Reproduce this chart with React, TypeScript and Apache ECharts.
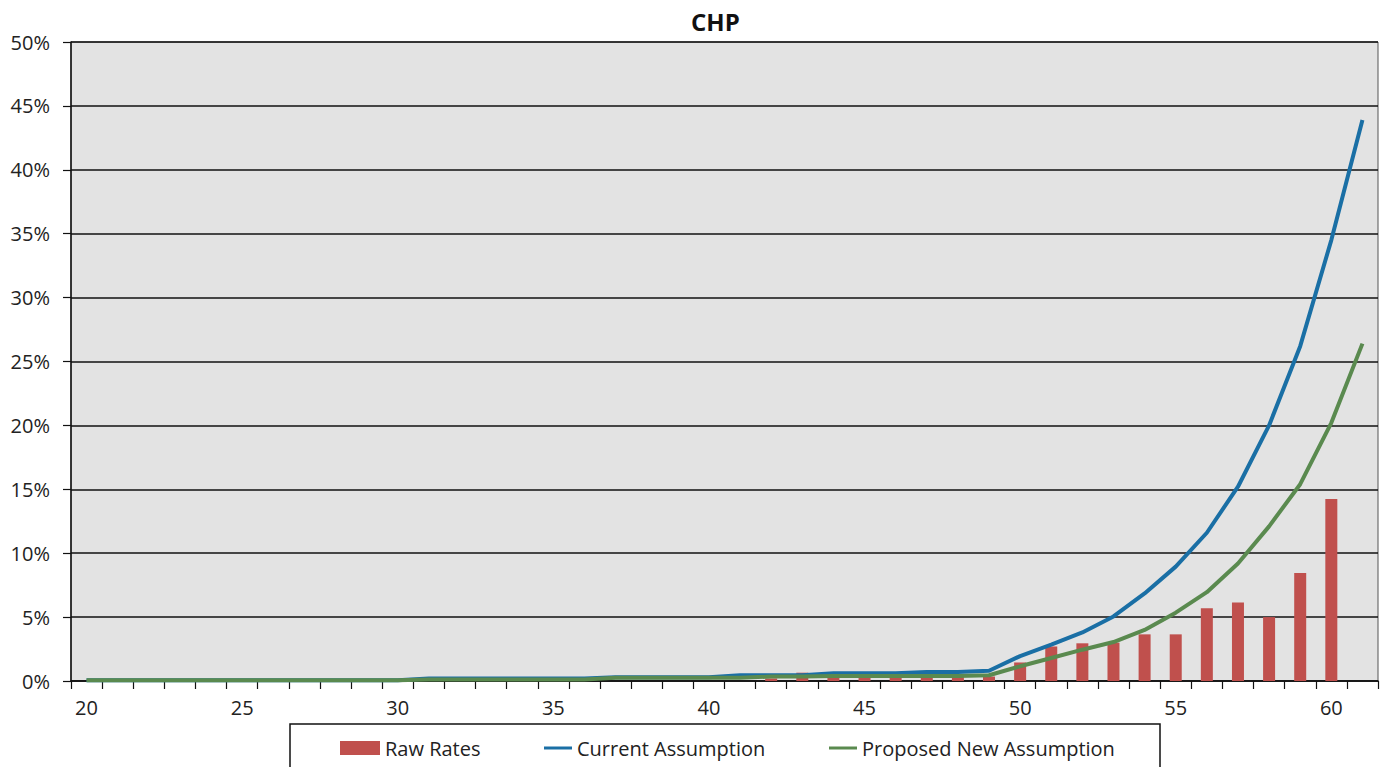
import React, { useEffect, useRef } from "react";
import * as echarts from "echarts";

const ages = ["20","21","22","23","24","25","26","27","28","29","30","31","32","33","34","35","36","37","38","39","40","41","42","43","44","45","46","47","48","49","50","51","52","53","54","55","56","57","58","59","60","61"];

const rawRates = [null,null,null,null,null,null,null,null,null,null,null,null,null,null,null,null,null,null,null,null,null,null,0.2,0.65,0.3,0.3,0.35,0.35,0.35,0.35,1.45,2.7,2.95,3.0,3.65,3.65,5.7,6.15,5.0,8.45,14.25,null];

const currentAssumption = [0.05,0.05,0.05,0.05,0.05,0.05,0.05,0.05,0.05,0.05,0.05,0.2,0.2,0.2,0.2,0.2,0.2,0.3,0.3,0.3,0.3,0.45,0.45,0.45,0.6,0.6,0.6,0.7,0.7,0.8,1.95,2.85,3.8,5.05,6.85,8.95,11.6,15.2,20.0,26.2,34.5,43.9];

const proposedAssumption = [0.05,0.05,0.05,0.05,0.05,0.05,0.05,0.05,0.05,0.05,0.05,0.12,0.12,0.12,0.12,0.12,0.12,0.25,0.25,0.25,0.25,0.25,0.35,0.35,0.4,0.4,0.4,0.4,0.4,0.45,1.15,1.8,2.45,3.05,4.0,5.35,6.95,9.2,12.1,15.4,20.2,26.4];

const FONT = "'Open Sans', sans-serif";

export default function App() {
  const ref = useRef<HTMLDivElement>(null);
  useEffect(() => {
    if (!ref.current) return;
    const chart = echarts.init(ref.current, undefined, { renderer: "svg" });
    const legendText = { fontFamily: FONT, fontSize: 20, color: "#222", lineHeight: 20 };
    chart.setOption({
      animation: false,
      backgroundColor: "#ffffff",
      title: {
        text: "CHP",
        left: 691,
        top: 6,
        padding: 0,
        textStyle: { fontFamily: FONT, fontSize: 24, fontWeight: "bold", color: "#111", lineHeight: 30 },
      },
      graphic: [
        {
          type: "rect",
          shape: { x: 290, y: 724, width: 870, height: 60 },
          style: { fill: "#ffffff", stroke: "#111", lineWidth: 1.5 },
          z: 0,
        },
      ],
      legend: [
        {
          data: ["Raw Rates"],
          left: 340,
          top: 738,
          padding: 0,
          itemWidth: 40,
          itemHeight: 14,
          icon: "rect",
          textStyle: legendText,
          z: 10,
        },
        {
          data: ["Current Assumption"],
          left: 544,
          top: 738,
          padding: 0,
          itemWidth: 28,
          itemHeight: 3,
          icon: "rect",
          textStyle: legendText,
          z: 10,
        },
        {
          data: ["Proposed New Assumption"],
          left: 829,
          top: 738,
          padding: 0,
          itemWidth: 28,
          itemHeight: 3,
          icon: "rect",
          textStyle: legendText,
          z: 10,
        },
      ],
      grid: {
        left: 71,
        right: 6,
        top: 42,
        bottom: 86,
        show: true,
        backgroundColor: "#e3e3e3",
        borderColor: "#555",
        borderWidth: 1,
      },
      xAxis: {
        type: "category",
        data: ages,
        boundaryGap: true,
        axisLine: { show: true, lineStyle: { color: "#111", width: 1.5 } },
        axisTick: { show: true, interval: 0, alignWithLabel: false, length: 8, lineStyle: { color: "#111", width: 1.2 } },
        axisLabel: { interval: 4, margin: 16, fontFamily: FONT, fontSize: 20, color: "#222" },
        splitLine: { show: false },
      },
      yAxis: {
        type: "value",
        min: 0,
        max: 50,
        interval: 5,
        axisLine: { show: true, lineStyle: { color: "#111", width: 1.5 } },
        axisTick: { show: true, length: 8, lineStyle: { color: "#111", width: 1.2 } },
        axisLabel: { formatter: "{value}%", margin: 21, fontFamily: FONT, fontSize: 20, color: "#222" },
        splitLine: { show: true, lineStyle: { color: "#111", width: 1.5 } },
      },
      series: [
        {
          name: "Raw Rates",
          type: "bar",
          data: rawRates,
          barWidth: 12,
          itemStyle: { color: "#c0504d" },
        },
        {
          name: "Current Assumption",
          type: "line",
          data: currentAssumption,
          symbol: "none",
          showSymbol: false,
          lineStyle: { color: "#1a6fa5", width: 4 },
          itemStyle: { color: "#1a6fa5" },
        },
        {
          name: "Proposed New Assumption",
          type: "line",
          data: proposedAssumption,
          symbol: "none",
          showSymbol: false,
          lineStyle: { color: "#5a8a4f", width: 4 },
          itemStyle: { color: "#5a8a4f" },
        },
      ],
    });
    return () => chart.dispose();
  }, []);
  return (
    <div
      ref={ref}
      style={{ position: "fixed", left: 0, top: 0, width: 1384, height: 767 }}
    />
  );
}
